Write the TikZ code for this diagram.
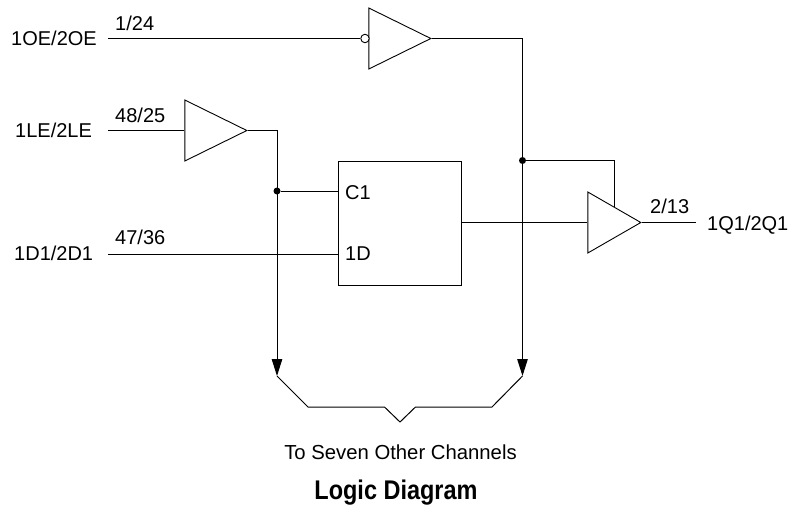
\documentclass[tikz,border=0pt]{standalone}
\usepackage{fontspec}
\setmainfont{Liberation Sans}
\usetikzlibrary{shapes.geometric,arrows.meta}
\tikzset{
  x=1pt,y=-1pt,
  wire/.style={line width=1pt,line join=miter},
  buffer/.style={draw,line width=0.9pt,isosceles triangle,isosceles triangle stretches=true,shape border rotate=0,inner sep=0pt,minimum height=#1,minimum width=61pt,anchor=east},
  dotnode/.style={circle,fill=black,inner sep=0pt,minimum size=7pt},
  bubble/.style={circle,draw,line width=0.9pt,fill=white,inner sep=0pt,minimum size=8.5pt},
  lbl/.style={font=\fontsize{20}{22}\selectfont,inner sep=0pt,anchor=base west},
  ctr/.style={font=\fontsize{20.3}{22}\selectfont,inner sep=0pt,anchor=base},
  ttl/.style={font=\fontsize{27}{30}\selectfont\bfseries,inner sep=0pt,anchor=base,xscale=0.87,transform shape},
  latch/.style={draw,line width=1pt,minimum width=123pt,minimum height=124pt,inner sep=0pt},
  tip/.style={-{Triangle[length=17pt,width=10.5pt]}}
}
\begin{document}
\begin{tikzpicture}
\useasboundingbox (0,0) rectangle (796,504);
% gates and register
\node[buffer=62pt] (oe) at (432,38.5) {};
\node[buffer=62pt] (le) at (248,130.5) {};
\node[buffer=53pt] (out) at (642,222.5) {};
\node[latch] (reg) at (399.5,223) {};
\node[bubble] (bub) at (365,38.5) {};
\node[dotnode] (d1) at (277,191) {};
\node[dotnode] (d2) at (522.5,160.5) {};
% free ends
\coordinate (oein) at (108,38.5);
\coordinate (lein) at (108,130.5);
\coordinate (dinp) at (108,254);
\coordinate (qout) at (696,222.5);
\coordinate (c1in) at (338,191);
\coordinate (dpin) at (338,254);
\coordinate (qpin) at (461,222.5);
\coordinate (enpin) at (614,207);
\coordinate (tipL) at (277,376);
\coordinate (tipR) at (522.5,376);
\coordinate (braceTip) at (400,422);
% wires
\draw[wire] (oein) -- (bub.west);
\draw[wire] (lein) -- (le.west);
\draw[wire] (dinp) -- (dpin);
\draw[wire] (d1) -- (c1in);
\draw[wire] (qpin) -- (out.west);
\draw[wire] (out.east) -- (qout);
\draw[wire,tip] (le.east) -| (tipL);
\draw[wire,tip] (oe.east) -| (tipR);
\draw[wire] (d2) -| (enpin);
\draw[wire] (tipL) -- (308,407) -- (384.5,407) -- (braceTip) -- (415.5,407) -- (492,407) -- (tipR);
% labels
\node[lbl] at (11,45) {1OE/2OE};
\node[lbl] at (15,137) {1LE/2LE};
\node[lbl] at (14,260) {1D1/2D1};
\node[lbl] at (707,230) {1Q1/2Q1};
\node[lbl] at (115,30) {1/24};
\node[lbl] at (115,122) {48/25};
\node[lbl] at (115,244) {47/36};
\node[lbl] at (650,213) {2/13};
\node[lbl] at (345,199) {C1};
\node[lbl] at (345,260) {1D};
\node[ctr] at (400.5,459) {To Seven Other Channels};
\node[ttl] at (396,499) {Logic Diagram};
\end{tikzpicture}
\end{document}
